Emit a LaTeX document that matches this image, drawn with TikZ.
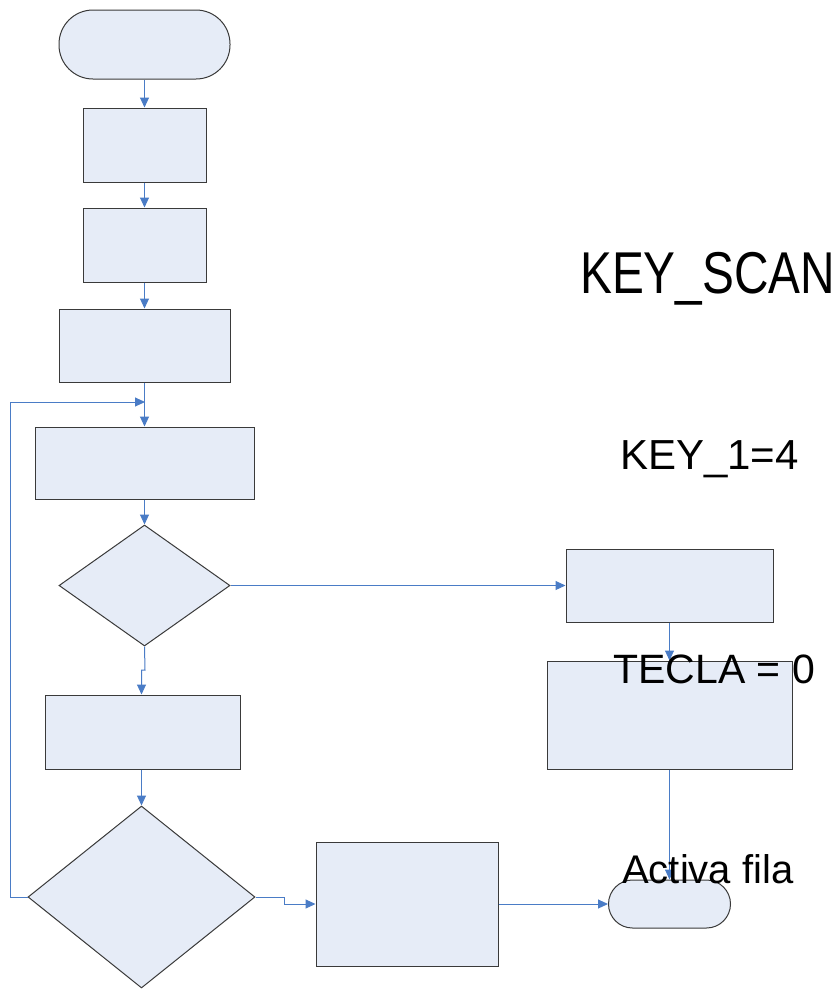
\documentclass[tikz,border=0pt]{standalone}
\usepackage{fontspec}
\setmainfont{Liberation Sans}
\usetikzlibrary{arrows.meta,shapes.geometric}
\definecolor{boxfill}{HTML}{E6ECF7}
\definecolor{boxline}{HTML}{3A3A3A}
\definecolor{flow}{HTML}{4A7CC6}
\tikzset{
  base/.style={draw=boxline, line width=1pt, fill=boxfill, inner sep=0pt},
  procbox/.style={base, rectangle},
  termbox/.style={base, rectangle, rounded corners=#1},
  decbox/.style={base, diamond},
  flowline/.style={draw=flow, line width=1pt, -{Triangle[length=10pt,width=9pt]}},
  label/.style={anchor=base west, inner sep=0pt, text=black}
}
\begin{document}
\begin{tikzpicture}[x=1pt,y=-1pt]
\useasboundingbox (0,0) rectangle (839,989);
\fill[white] (0,0) rectangle (839,989);

% left column
\node[termbox=34pt, minimum width=171pt, minimum height=69pt] (t1) at (144.5,44.5) {};
\node[procbox, minimum width=123pt, minimum height=74pt] (b1) at (144.5,145) {};
\node[procbox, minimum width=123pt, minimum height=74pt] (b2) at (144.5,245) {};
\node[procbox, minimum width=171pt, minimum height=73pt] (b3) at (144.5,345.5) {};
\node[procbox, minimum width=219pt, minimum height=72pt] (b4) at (144.5,463) {};
\node[decbox, minimum width=171pt, minimum height=121pt] (d1) at (144.5,585.5) {};
\node[procbox, minimum width=195pt, minimum height=74pt] (b7) at (142.5,732) {};
\node[decbox, minimum width=227pt, minimum height=182pt] (d2) at (141.5,897) {};

% right side
\node[procbox, minimum width=207pt, minimum height=73pt] (b5) at (669.5,585.5) {};
\node[procbox, minimum width=245pt, minimum height=108pt] (b6) at (669.5,715) {};
\node[procbox, minimum width=182pt, minimum height=124pt] (b8) at (407,904) {};
\node[termbox=24pt, minimum width=122pt, minimum height=48pt] (t2) at (669.5,904) {};

% junction points
\coordinate (jn) at (145,402);
\coordinate (lx) at (10,402);
\coordinate (j1) at (145,670);
\coordinate (j2) at (284,897);
\coordinate (b7in) at (d2.north |- b7.north);
\coordinate (b7out) at (d2.north |- b7.south);

% connectors
\draw[flowline] (t1.south) -- (b1.north);
\draw[flowline] (b1.south) -- (b2.north);
\draw[flowline] (b2.south) -- (b3.north);
\draw[flowline] (b3.south) -- (b4.north);
\draw[flowline] (d2.west) -| (lx) -- (jn);
\draw[flowline] (b4.south) -- (d1.north);
\draw[flowline] (d1.east) -- (b5.west);
\draw[flowline] (d1.south) -- (j1) -| (b7in);
\draw[flowline] (b5.south) -- (b6.north);
\draw[flowline] (b7out) -- (d2.north);
\draw[flowline] (d2.east) -- (j2) |- (b8.west);
\draw[flowline] (b6.south) -- (t2.north);
\draw[flowline] (b8.east) -- (t2.west);

% texts
\node[label] (tk) at (580,293) {\scalebox{0.81}[1]{\fontsize{59}{59}\selectfont KEY\_SCAN}};
\node[label] (tk1) at (620,469) {\fontsize{42}{42}\selectfont KEY\_1=4};
\node[label] (tt) at (613,683) {\fontsize{41}{41}\selectfont TECLA = 0};
\node[label] (ta) at (622,883) {\fontsize{40}{40}\selectfont Activa fila};
\end{tikzpicture}
\end{document}
